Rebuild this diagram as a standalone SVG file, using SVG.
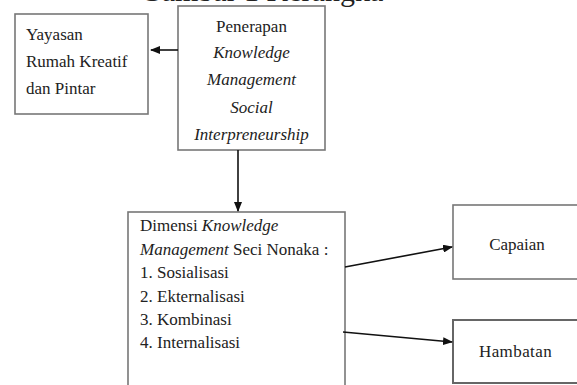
<svg xmlns="http://www.w3.org/2000/svg" width="577" height="385" viewBox="0 0 577 385">
<style>
.box{fill:#fff;stroke:#777;stroke-width:1.6}
.t{font-family:"Liberation Serif","Times New Roman",serif;font-size:17px;fill:#222}
.i{font-style:italic}
.c{text-anchor:middle}
.con{stroke:#111;stroke-width:1.6;fill:none}
</style>
<defs>
<marker id="ah" markerWidth="10" markerHeight="8" refX="9" refY="4" orient="auto" markerUnits="userSpaceOnUse">
<path d="M0,0 L10,4 L0,8 Z" fill="#111"/>
</marker>
</defs>
<rect width="577" height="385" fill="#fff"/>
<text class="t" x="140" y="0.5" style="font-size:30px">Gambar 1 Kerangka</text>
<g id="yayasan">
<rect class="box" x="15" y="14" width="133" height="100"/>
<text class="t" x="26" y="40">Yayasan</text>
<text class="t" x="26" y="67">Rumah Kreatif</text>
<text class="t" x="26" y="94">dan Pintar</text>
</g>
<g id="penerapan">
<rect class="box" x="178" y="6" width="147" height="144"/>
<text class="t c" x="251.5" y="32">Penerapan</text>
<text class="t c i" x="251.5" y="58">Knowledge</text>
<text class="t c i" x="251.5" y="85">Management</text>
<text class="t c i" x="251.5" y="113">Social</text>
<text class="t c i" x="251.5" y="140">Interpreneurship</text>
</g>
<g id="dimensi">
<rect class="box" x="128" y="212" width="217" height="190"/>
<text class="t" x="140" y="231">Dimensi <tspan class="i">Knowledge</tspan></text>
<text class="t" x="140" y="255"><tspan class="i">Management</tspan> Seci Nonaka :</text>
<text class="t" x="140" y="278">1. Sosialisasi</text>
<text class="t" x="140" y="302">2. Ekternalisasi</text>
<text class="t" x="140" y="325">3. Kombinasi</text>
<text class="t" x="140" y="348">4. Internalisasi</text>
</g>
<g id="capaian">
<rect class="box" x="453" y="205" width="130" height="74"/>
<text class="t c" x="517" y="250">Capaian</text>
</g>
<g id="hambatan">
<rect class="box" x="453" y="320" width="130" height="63" style="stroke:#666;stroke-width:2"/>
<text class="t" x="479" y="357" style="letter-spacing:0.4px">Hambatan</text>
</g>
<g id="connectors">
<line class="con" x1="178" y1="50" x2="151" y2="50" marker-end="url(#ah)"/>
<line class="con" x1="238" y1="150" x2="238" y2="211" marker-end="url(#ah)"/>
<line class="con" x1="345" y1="267" x2="452" y2="247" marker-end="url(#ah)"/>
<line class="con" x1="343" y1="332" x2="452" y2="342" marker-end="url(#ah)"/>
</g>
</svg>
